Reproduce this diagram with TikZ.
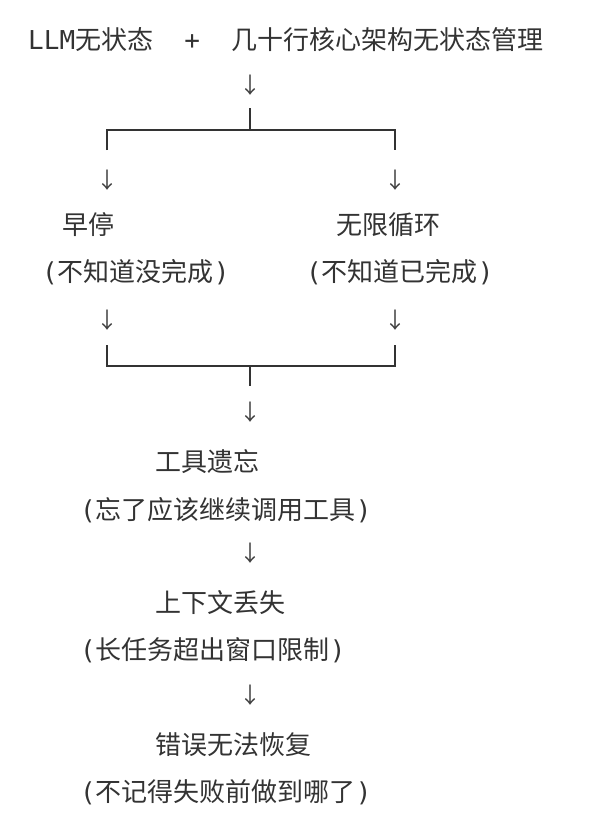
\documentclass[tikz,border=0pt]{standalone}
\usepackage{fontspec}
\setmainfont{Noto Sans CJK SC}
\newfontfamily\monof{DejaVu Sans Mono}
\newcommand{\lp}{{\monof(}}
\newcommand{\rp}{{\monof)}}
\begin{document}
\begin{tikzpicture}[x=1pt,y=1pt,
  txt/.style={anchor=west,inner sep=0pt,text=black!80,font=\fontsize{26}{30}\selectfont},
  arr/.style={inner sep=0pt,text=black!75,font=\fontsize{22}{26}\selectfont},
  ln/.style={draw=black!80,line width=2pt}]
\useasboundingbox (0,0) rectangle (600,-830);
\fill[white] (0,0) rectangle (600,-830);
\node[txt] (t) at (28,-40) {{\monof LLM}无状态{\monof\ \ +\ \ }几十行核心架构无状态管理};
\node[arr] (a0) at (250,-85) {↓};
\coordinate (s1) at (250,-108);
\coordinate (h1) at (250,-130);
\coordinate (hl) at (107,-130);
\coordinate (hr) at (395,-130);
\coordinate (tl) at (107,-150);
\coordinate (tr) at (395,-150);
\draw[ln] (s1)--(h1);
\draw[ln] (tl)--(hl)--(hr)--(tr);
\node[arr] (a1) at (107,-180) {↓};
\node[arr] (a2) at (395,-180) {↓};
\node[txt] (l1) at (62,-225) {早停};
\node[txt] (l2) at (42,-272) {\lp 不知道没完成\rp};
\node[txt] (r1) at (336,-225) {无限循环};
\node[txt] (r2) at (306,-272) {\lp 不知道已完成\rp};
\node[arr] (a3) at (107,-320) {↓};
\node[arr] (a4) at (395,-320) {↓};
\coordinate (bl) at (107,-345);
\coordinate (br) at (395,-345);
\coordinate (cl) at (107,-366);
\coordinate (cr) at (395,-366);
\coordinate (cm) at (250,-366);
\coordinate (cs) at (250,-386);
\draw[ln] (bl)--(cl)--(cr)--(br);
\draw[ln] (cm)--(cs);
\node[arr] (a5) at (250,-412) {↓};
\node[txt] (g1) at (155,-462) {工具遗忘};
\node[txt] (g2) at (80,-510) {\lp 忘了应该继续调用工具\rp};
\node[arr] (a6) at (250,-553) {↓};
\node[txt] (k1) at (155,-603) {上下文丢失};
\node[txt] (k2) at (80,-650) {\lp 长任务超出窗口限制\rp};
\node[arr] (a7) at (250,-695) {↓};
\node[txt] (e1) at (155,-745) {错误无法恢复};
\node[txt] (e2) at (80,-792) {\lp 不记得失败前做到哪了\rp};
\end{tikzpicture}
\end{document}
